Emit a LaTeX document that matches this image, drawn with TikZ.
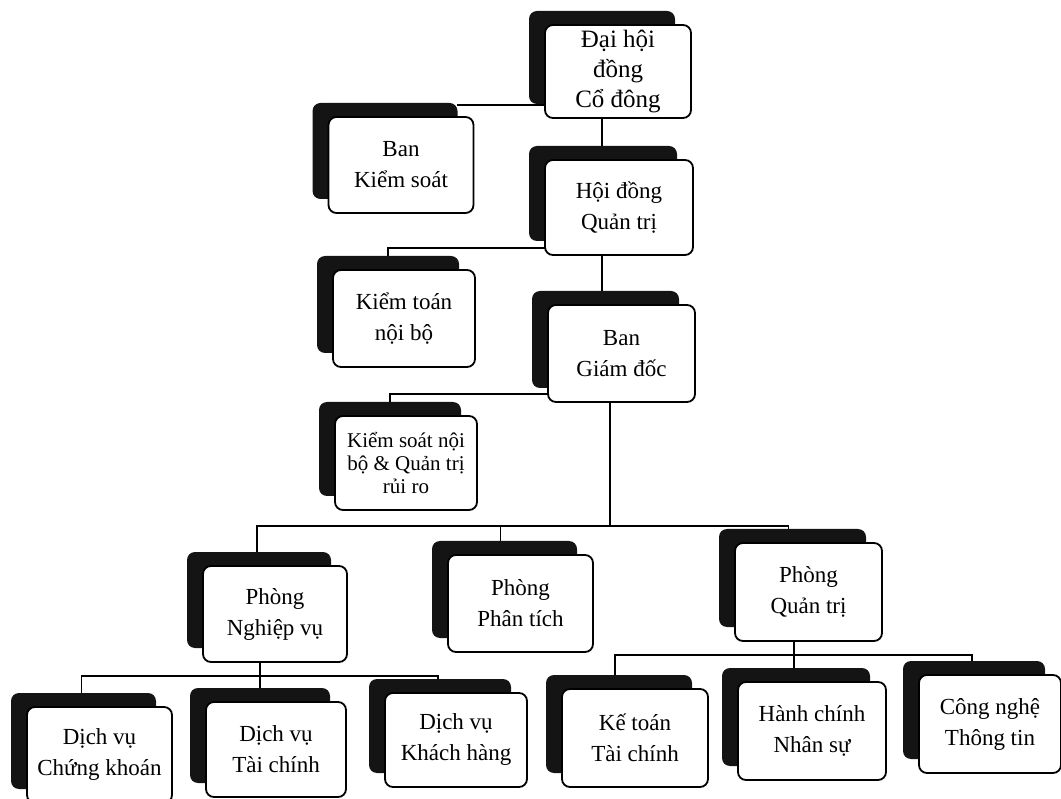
\documentclass[tikz,border=0pt]{standalone}
\usepackage{fontspec}
\setmainfont{Liberation Serif}
\usetikzlibrary{shadows,backgrounds}
\begin{document}
\begin{tikzpicture}[x=1pt,y=-1pt,
  unit/.style={draw=black, line width=1.8pt, fill=white, rounded corners=8pt,
    align=center, inner sep=0pt, font=\fontsize{23}{31}\selectfont,
    drop shadow={shadow xshift=-16pt, shadow yshift=14pt, fill=black!92, opacity=1}},
  link/.style={line width=1.9pt, line cap=rect}]
\useasboundingbox (0,0) rectangle (1061,799);

\node[unit, minimum width=146pt, minimum height=93pt, font=\fontsize{25}{30}\selectfont] (dhcd) at (618,71.5) {Đại hội\\đồng\\Cổ đông};
\node[unit, minimum width=145pt, minimum height=96pt] (bks) at (401,165) {Ban\\Kiểm soát};
\node[unit, minimum width=148pt, minimum height=95pt] (hdqt) at (619,207.5) {Hội đồng\\Quản trị};
\node[unit, minimum width=142pt, minimum height=97pt] (ktnb) at (404,318.5) {Kiểm toán\\nội bộ};
\node[unit, minimum width=147pt, minimum height=97pt] (bgd) at (621.5,353.5) {Ban\\Giám đốc};
\node[unit, minimum width=142pt, minimum height=94pt, font=\fontsize{21}{23}\selectfont] (ksnb) at (406,463) {Kiểm soát nội\\bộ \& Quản trị\\rủi ro};
\node[unit, minimum width=144pt, minimum height=96pt] (pnv) at (275,614) {Phòng\\Nghiệp vụ};
\node[unit, minimum width=145pt, minimum height=97pt] (ppt) at (520.5,603.5) {Phòng\\Phân tích};
\node[unit, minimum width=147pt, minimum height=98pt] (pqt) at (808.5,592) {Phòng\\Quản trị};
\node[unit, minimum width=145pt, minimum height=96pt] (dvck) at (99.5,755) {Dịch vụ\\Chứng khoán};
\node[unit, minimum width=140pt, minimum height=95pt] (dvtc) at (276,749.5) {Dịch vụ\\Tài chính};
\node[unit, minimum width=142pt, minimum height=94pt] (dvkh) at (456,740) {Dịch vụ\\Khách hàng};
\node[unit, minimum width=146pt, minimum height=98pt] (kttc) at (635,738) {Kế toán\\Tài chính};
\node[unit, minimum width=148pt, minimum height=98pt] (hcns) at (812,731) {Hành chính\\Nhân sự};
\node[unit, minimum width=142pt, minimum height=98pt] (cntt) at (990,724) {Công nghệ\\Thông tin};

\begin{scope}[on background layer]
\coordinate (busA) at (0,526);
\coordinate (busB) at (0,676);
\coordinate (busC) at (0,655);
\coordinate (sa) at (602,0);
\coordinate (sb) at (610,0);
\coordinate (sc) at (260,0);
\coordinate (sd) at (794,0);

\draw[link] (dhcd.south -| sa) -- (hdqt.north -| sa);
\coordinate (bksR) at ([shift={(-16pt,11pt)}]bks.north east);
\draw[link] (bksR -| sa) -- (bksR);

\coordinate (ktnbT) at ([xshift=-16pt]ktnb.north);
\coordinate (ktnbJ) at ([yshift=8pt]hdqt.south);
\draw[link] (ktnbJ -| sa) -| (ktnbT);
\draw[link] (hdqt.south -| sa) -- (bgd.north -| sa);

\coordinate (ksnbT) at ([xshift=-16pt]ksnb.north);
\coordinate (ksnbJ) at ([yshift=9pt]bgd.south);
\draw[link] (ksnbJ -| sb) -| (ksnbT);

\draw[link] (bgd.south -| sb) -- (busA -| sb);
\coordinate (pnvT) at ([xshift=-18pt]pnv.north);
\coordinate (pptT) at ([xshift=-20pt]ppt.north);
\coordinate (pqtT) at ([xshift=-20pt]pqt.north);
\draw[link] (pnvT) |- (busA -| pqtT) -- (pqtT);
\draw[link] (busA -| pptT) -- (pptT);

\draw[link] (pnv.south -| sc) -- (busB -| sc) -- (dvtc.north -| sc);
\coordinate (dvckT) at ([xshift=-18pt]dvck.north);
\coordinate (dvkhT) at ([xshift=-18pt]dvkh.north);
\draw[link] (dvckT) |- (busB -| dvkhT) -- (dvkhT);

\draw[link] (pqt.south -| sd) -- (hcns.north -| sd);
\coordinate (kttcT) at ([xshift=-20pt]kttc.north);
\coordinate (cnttT) at ([xshift=-18pt]cntt.north);
\draw[link] (kttcT) |- (busC -| cnttT) -- (cnttT);
\end{scope}
\end{tikzpicture}
\end{document}
